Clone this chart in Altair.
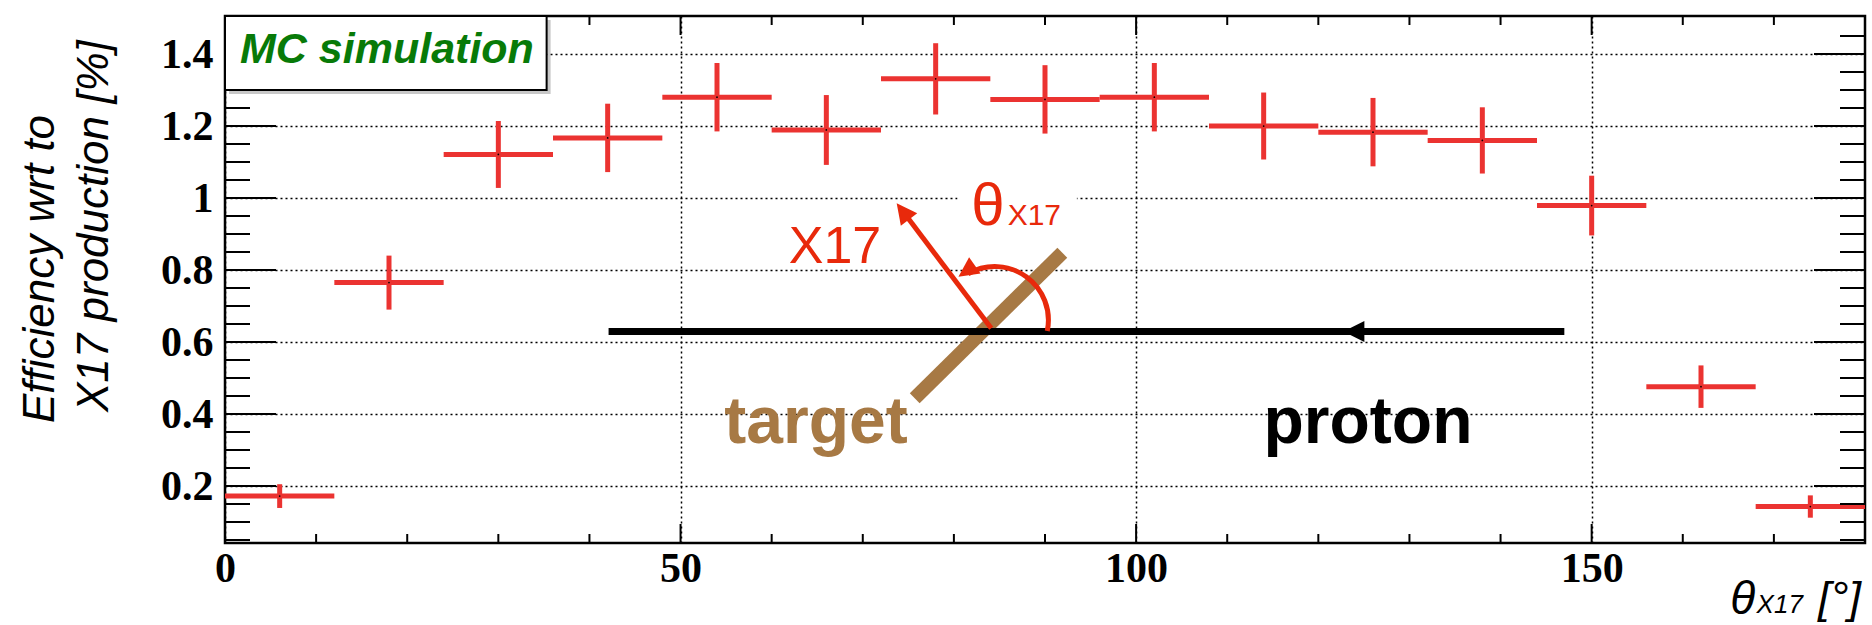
import altair as alt
import pandas as pd

# ---------------- data ----------------
bin_lo = [0, 12, 24, 36, 48, 60, 72, 84, 96, 108, 120, 132, 144, 156, 168]
bin_hi = [12, 24, 36, 48, 60, 72, 84, 96, 108, 120, 132, 144, 156, 168, 180]
bin_center = [6, 18, 30, 42, 54, 66, 78, 90, 102, 114, 126, 138, 150, 162, 174]
efficiency = [0.172, 0.765, 1.121, 1.167, 1.280, 1.189, 1.331, 1.274, 1.280,
              1.200, 1.183, 1.160, 0.979, 0.476, 0.143]
eff_err = [0.033, 0.075, 0.093, 0.095, 0.095, 0.097, 0.099, 0.095, 0.095,
           0.093, 0.095, 0.092, 0.083, 0.059, 0.031]

x_domain = [0, 180]
y_domain = [0.0417, 1.5056]

y_major = [0.2, 0.4, 0.6, 0.8, 1.0, 1.2, 1.4]
y_minor = [0.05, 0.1, 0.15, 0.25, 0.3, 0.35, 0.45, 0.5, 0.55, 0.65, 0.7, 0.75,
           0.85, 0.9, 0.95, 1.05, 1.1, 1.15, 1.25, 1.3, 1.35, 1.45]
x_major = [0, 50, 100, 150]
x_minor = [10, 20, 30, 40, 60, 70, 80, 90, 110, 120, 130, 140, 160, 170]

# sketch annotation (data coordinates)
proton_x = [42.1, 147.0]
proton_y = [0.629, 0.629]
proton_head = [123.9, 0.629]
target_x = [91.9, 75.7]
target_y = [0.848, 0.444]
x17_x = [84.1, 74.4]
x17_y = [0.638, 0.963]
arc_center = [84.5, 0.661]
arc_head = [81.4, 0.797]

RED_PTS = "#EB3331"
RED = "#E8290B"
BROWN = "#A77944"
GREEN = "#087A08"

xs = alt.Scale(domain=x_domain, nice=False, zero=False)
ys = alt.Scale(domain=y_domain, nice=False, zero=False)

x_axis = alt.Axis(values=x_major, grid=True, gridDash=[2, 3], gridColor="black",
                  gridWidth=1.5, ticks=False, tickSize=0, domain=False,
                  labelFont="Liberation Serif", labelFontWeight="bold",
                  labelFontSize=42, labelPadding=5, labelColor="black",
                  labelFlush=False, title=None)
y_axis = alt.Axis(values=y_major, format="~g", grid=True, gridDash=[2, 3],
                  gridColor="black", gridWidth=1.5, ticks=False, tickSize=0,
                  domain=False, labelFont="Liberation Serif", labelFontWeight="bold",
                  labelFontSize=42, labelPadding=12, labelColor="black",
                  title=None)


def X(f):
    return alt.X(f, scale=xs, axis=x_axis)


def Y(f):
    return alt.Y(f, scale=ys, axis=y_axis)


df = pd.DataFrame({"lo": bin_lo, "hi": bin_hi, "c": bin_center,
                   "v": efficiency, "e": eff_err})
df["vlo"] = df["v"] - df["e"]
df["vhi"] = df["v"] + df["e"]

hbar = alt.Chart(df).mark_rule(color=RED_PTS, strokeWidth=5).encode(
    x=X("lo:Q"), x2="hi:Q", y=Y("v:Q"))
vbar = alt.Chart(df).mark_rule(color=RED_PTS, strokeWidth=5).encode(
    x=X("c:Q"), y=Y("vlo:Q"), y2="vhi:Q")
dots = alt.Chart(df).mark_point(filled=True, color="black", size=3, opacity=1).encode(
    x=X("c:Q"), y=Y("v:Q"))


def ytick(vals, edge, length, sign):
    d = pd.DataFrame({"t": vals, "edge": [edge] * len(vals)})
    return alt.Chart(d).mark_tick(orient="horizontal", size=length, thickness=2,
                                  color="black", xOffset=sign * length / 2,
                                  opacity=1).encode(x=X("edge:Q"), y=Y("t:Q"))


def xtick(vals, edge, length, sign):
    d = pd.DataFrame({"t": vals, "edge": [edge] * len(vals)})
    return alt.Chart(d).mark_tick(orient="vertical", size=length, thickness=2,
                                  color="black", yOffset=sign * length / 2,
                                  opacity=1).encode(x=X("t:Q"), y=Y("edge:Q"))


ticks = [
    ytick(y_major, x_domain[0], 51, 1), ytick(y_minor, x_domain[0], 25, 1),
    ytick(y_major, x_domain[1], 51, -1), ytick(y_minor, x_domain[1], 25, -1),
    xtick(x_major, y_domain[0], 19, -1), xtick(x_minor, y_domain[0], 9, -1),
    xtick(x_major, y_domain[1], 19, 1), xtick(x_minor, y_domain[1], 9, 1),
]

tri_up = "M0,-1L-1,1L1,1Z"


def seg(xv, yv, color, width):
    d = pd.DataFrame({"x": [xv[0]], "y": [yv[0]], "x2": [xv[1]], "y2": [yv[1]]})
    return alt.Chart(d).mark_rule(color=color, strokeWidth=width, strokeCap="butt").encode(
        x=X("x:Q"), y=Y("y:Q"), x2="x2:Q", y2="y2:Q")


def head(pos, angle, size, color):
    d = pd.DataFrame({"x": [pos[0]], "y": [pos[1]]})
    return alt.Chart(d).mark_point(shape=tri_up, filled=True, color=color, size=size,
                                   angle=angle, opacity=1, strokeWidth=0).encode(
        x=X("x:Q"), y=Y("y:Q"))


def txt(label, x, y, **kw):
    d = pd.DataFrame({"x": [x], "y": [y], "label": [label]})
    return alt.Chart(d).mark_text(**kw).encode(x=X("x:Q"), y=Y("y:Q"), text="label:N")


def box(x0, x1, y0, y1, **kw):
    d = pd.DataFrame({"x": [x0], "x2": [x1], "y": [y0], "y2": [y1]})
    return alt.Chart(d).mark_rect(**kw).encode(x=X("x:Q"), x2="x2:Q",
                                               y=Y("y:Q"), y2="y2:Q")


target_bar = seg(target_x, target_y, BROWN, 14)
proton_line = seg(proton_x, proton_y, "black", 7)
proton_arrow = head(proton_head, 270, 441, "black")
x17_line = seg(x17_x, x17_y, RED, 5)
x17_arrow = head([x17_x[1], x17_y[1]], 323, 420, RED)

arc_df = pd.DataFrame({"x": [arc_center[0]], "y": [arc_center[1]]})
arc = alt.Chart(arc_df).mark_arc(radius=56, radius2=51, theta=5.76, theta2=8.06,
                                 color=RED).encode(x=X("x:Q"), y=Y("y:Q"))
arc_arrow = head(arc_head, 235, 400, RED)

theta_bg = box(80.4, 93.5, 0.917, 1.05, color="white")

SANS = "Liberation Sans"
texts = [
    txt("X17", 66.95, 0.819, font=SANS, fontSize=52, color=RED, align="center",
        baseline="alphabetic"),
    txt("θ", 81.9, 0.926, font=SANS, fontSize=60, color=RED, align="left",
        baseline="alphabetic"),
    txt("X17", 85.9, 0.926, font=SANS, fontSize=30, color=RED, align="left",
        baseline="alphabetic"),
    txt("target", 64.87, 0.319, font=SANS, fontSize=66, fontWeight="bold",
        color=BROWN, align="center", baseline="alphabetic"),
    txt("proton", 125.45, 0.319, font=SANS, fontSize=66, fontWeight="bold",
        color="black", align="center", baseline="alphabetic"),
    # x axis title
    txt("θ", 165.2, -0.1556, font=SANS, fontSize=46, fontStyle="italic",
        color="black", align="left", baseline="alphabetic"),
    txt("X17", 168.1, -0.154, font=SANS, fontSize=26, fontStyle="italic",
        color="black", align="left", baseline="alphabetic"),
    txt("[°]", 174.85, -0.153, font=SANS, fontSize=45, fontStyle="italic",
        color="black", align="left", baseline="alphabetic"),
    # y axis title (two lines)
    txt("Efficiency wrt to", -18.82, 0.375, font=SANS, fontSize=44, fontStyle="italic",
        color="black", align="left", baseline="alphabetic", angle=270),
    txt("X17 production [%]", -12.79, 0.4056, font=SANS, fontSize=44,
        fontStyle="italic", color="black", align="left", baseline="alphabetic",
        angle=270),
]

mc_shadow = box(0.0, 35.3, 1.3, 1.5056, color="#9a9a9a", opacity=0.55,
                xOffset=4, x2Offset=4, yOffset=4, y2Offset=4)
mc_box = box(0.0, 35.3, 1.3, 1.5056, fill="white", stroke="black", strokeWidth=2)
mc_text = txt("MC simulation", 1.65, 1.375, font=SANS, fontSize=43, fontWeight="bold",
              fontStyle="italic", color=GREEN, align="left", baseline="alphabetic")

chart = alt.layer(
    hbar, vbar, dots, *ticks,
    target_bar, proton_line, proton_arrow, x17_line, x17_arrow, arc, arc_arrow,
    theta_bg, *texts, mc_shadow, mc_box, mc_text,
).properties(
    width=1640, height=527,
    autosize=alt.AutoSizeParams(type="none"),
    padding={"left": 225, "top": 16, "right": 7, "bottom": 82},
    background="white",
).configure_view(stroke="black", strokeWidth=2.5)

chart.save("out.html", embed_options={"renderer": "svg", "actions": False})
